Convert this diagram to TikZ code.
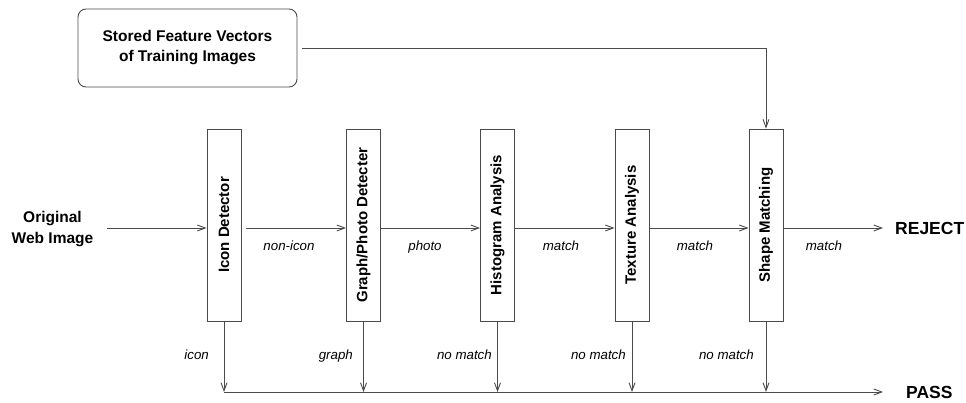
\documentclass[tikz,border=0pt]{standalone}
\usepackage{fontspec}
\setmainfont{Liberation Sans}
\usetikzlibrary{arrows.meta}
\definecolor{linegrey}{HTML}{4A4A4A}
\begin{document}
\begin{tikzpicture}[x=1pt,y=-1pt,
  conn/.style={draw=linegrey, line width=0.9pt},
  arr/.style={conn, -{Straight Barb[length=8pt,width=6pt,line width=0.9pt]}},
  stage/.style={draw=linegrey, line width=0.9pt, rotate=90, minimum width=192pt,
    minimum height=34pt, inner sep=0pt, font=\fontsize{15}{18}\selectfont\bfseries},
  bigtxt/.style={font=\fontsize{15.5}{21}\selectfont\bfseries, align=center, inner sep=0pt},
  endtxt/.style={font=\fontsize{17.5}{20}\selectfont\bfseries, inner sep=0pt, anchor=west},
  lbl/.style={font=\fontsize{13.3}{16}\selectfont\itshape, inner sep=0pt}
]
\useasboundingbox (0,0) rectangle (966,403);

% stored vectors box
\node[draw=linegrey, line width=0.9pt, rounded corners=8pt, minimum width=219pt,
  minimum height=78pt, bigtxt, font=\fontsize{15.5}{20}\selectfont\bfseries] (stored) at (187.5,48)
  {Stored Feature Vectors\\of Training Images};

% input text
\node[bigtxt] (orig) at (52.5,229) {Original\\Web Image};

% stages (rotated: north = left side, south = right side, east = top, west = bottom)
\node[stage] (icon) at (224,225) {Icon Detector};
\node[stage] (graph) at (363.5,225) {Graph/Photo Detecter};
\node[stage] (hist) at (497.5,225) {Histogram Analysis};
\node[stage] (tex) at (632,225) {Texture Analysis};
\node[stage] (shape) at (766,225) {Shape Matching};

% outputs
\node[endtxt] (reject) at (895,228) {REJECT};
\node[endtxt] (pass) at (906,392) {PASS};

% helper coordinates
\coordinate (m) at (0,228);
\coordinate (inStart) at (107,228);
\coordinate (rejEnd) at (883,228);
\coordinate (passEnd) at (883,392);
\coordinate (p) at (0,392);
\coordinate (corner) at (766,48);
\coordinate (storedOut) at (302,48);

% main flow
\draw[arr] (inStart) -- (icon.north |- m);
\draw[arr] ([xshift=5pt]icon.south |- m) -- (graph.north |- m);
\draw[arr] (graph.south |- m) -- (hist.north |- m);
\draw[arr] (hist.south |- m) -- (tex.north |- m);
\draw[arr] (tex.south |- m) -- (shape.north |- m);
\draw[arr] (shape.south |- m) -- (rejEnd);

% stored to shape
\draw[arr] (storedOut) -- (corner) -- (shape.east);

% pass flows
\draw[arr] (icon.west) -- (icon.west |- p);
\draw[arr] (graph.west) -- (graph.west |- p);
\draw[arr] (hist.west) -- (hist.west |- p);
\draw[arr] (tex.west) -- (tex.west |- p);
\draw[arr] (shape.west) -- (shape.west |- p);
\draw[arr] (icon.west |- p) -- (passEnd);

% labels
\node[lbl, anchor=base] (l1) at (289,251) {non-icon};
\node[lbl, anchor=base] (l2) at (425,251) {photo};
\node[lbl, anchor=base] (l3) at (561,251) {match};
\node[lbl, anchor=base] (l4) at (695,251) {match};
\node[lbl, anchor=base] (l5) at (824,251) {match};

\node[lbl, anchor=base east] (b1) at (209,359) {icon};
\node[lbl, anchor=base east] (b2) at (353,359) {graph};
\node[lbl, anchor=base east] (b3) at (492,359) {no match};
\node[lbl, anchor=base east] (b4) at (626,359) {no match};
\node[lbl, anchor=base east] (b5) at (754,359) {no match};
\end{tikzpicture}
\end{document}
